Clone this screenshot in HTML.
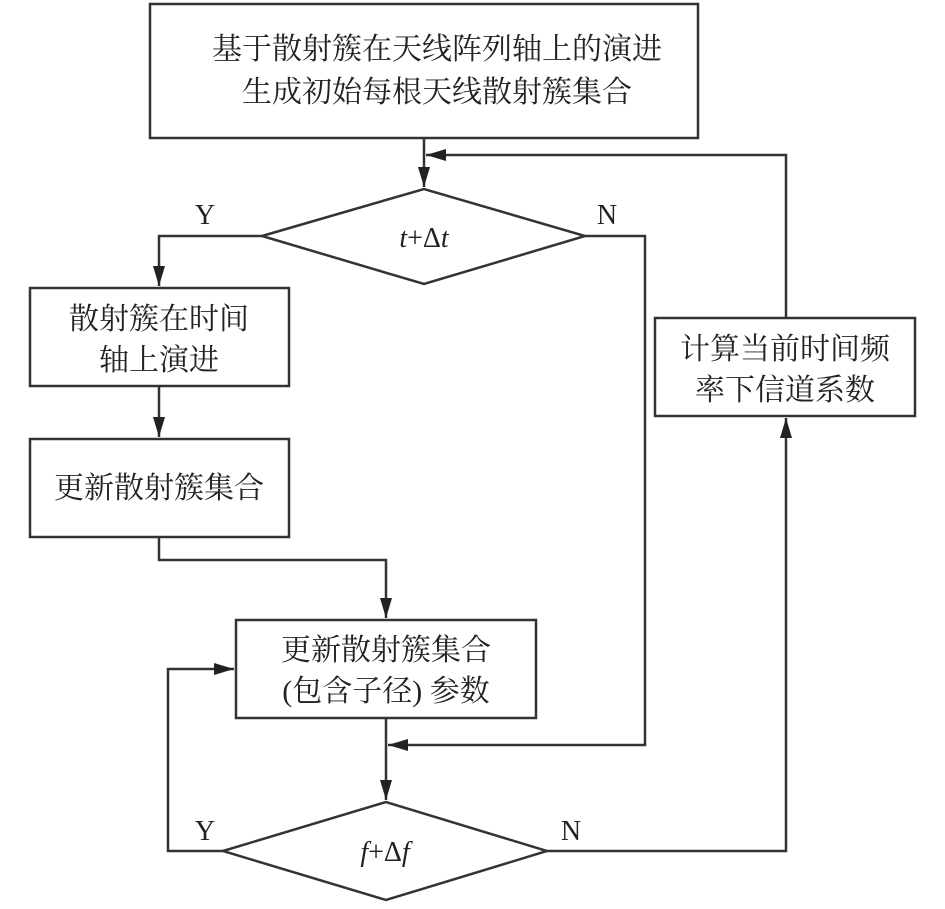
<!DOCTYPE html>
<html><head><meta charset="utf-8"><style>
body{margin:0;background:#fff;}
svg text{font-family:"Liberation Serif","Noto Serif CJK SC",serif;fill:#222;}
</style></head><body>
<svg width="945" height="904" viewBox="0 0 945 904" xmlns="http://www.w3.org/2000/svg">
<defs><marker id="a" markerWidth="12" markerHeight="20" refX="12" refY="6" orient="auto" markerUnits="userSpaceOnUse" viewBox="0 0 12 12"><path d="M0,0 L12,6 L0,12 z" fill="#222"/></marker>
<marker id="b" viewBox="0 0 20 12" markerWidth="20" markerHeight="12" refX="20" refY="6" orient="auto" markerUnits="userSpaceOnUse"><path d="M0,0 L20,6 L0,12 z" fill="#222"/></marker></defs>
<g fill="none" stroke="#333" stroke-width="2.5">
<rect x="150" y="4" width="548" height="134" fill="#fff"/>
<polygon points="262,236 424,189 585,236 424,284" fill="#fff"/>
<rect x="30" y="288" width="259" height="98"/>
<rect x="30" y="439" width="259" height="98"/>
<rect x="236" y="620" width="300" height="98"/>
<rect x="655" y="318" width="260" height="98"/>
<polygon points="223,851 386,802 547,851 386,900" fill="#fff"/>
<line x1="424" y1="138" x2="424" y2="187" marker-end="url(#b)"/>
<polyline points="786,318 786,155 426,155" marker-end="url(#b)"/>
<polyline points="262,236 159,236 159,286" marker-end="url(#b)"/>
<line x1="159" y1="386" x2="159" y2="437" marker-end="url(#b)"/>
<polyline points="159,537 159,560 386,560 386,618" marker-end="url(#b)"/>
<polyline points="585,236 645,236 645,745 388,745" marker-end="url(#b)"/>
<line x1="386" y1="718" x2="386" y2="800" marker-end="url(#b)"/>
<polyline points="223,851 168,851 168,669 234,669" marker-end="url(#b)"/>
<polyline points="547,851 786,851 786,418" marker-end="url(#b)"/>
</g>
<g font-size="30" text-anchor="middle">
<text x="437" y="59">基于散射簇在天线阵列轴上的演进</text>
<text x="437" y="102">生成初始每根天线散射簇集合</text>
<text x="159" y="329">散射簇在时间</text>
<text x="159" y="370">轴上演进</text>
<text x="159" y="498">更新散射簇集合</text>
<text x="386" y="660">更新散射簇集合</text>
<text x="386" y="701">(包含子径) 参数</text>
<text x="785" y="359">计算当前时间频</text>
<text x="785" y="400">率下信道系数</text>
<text x="424" y="247" font-size="28" font-style="italic">t<tspan font-style="normal">+Δ</tspan>t</text>
<text x="385" y="861" font-size="28" font-style="italic">f<tspan font-style="normal">+Δ</tspan>f</text>
<text x="205" y="224" font-size="28">Y</text>
<text x="607" y="224" font-size="28">N</text>
<text x="205" y="840" font-size="28">Y</text>
<text x="571" y="840" font-size="28">N</text>
</g>
</svg>
</body></html>
